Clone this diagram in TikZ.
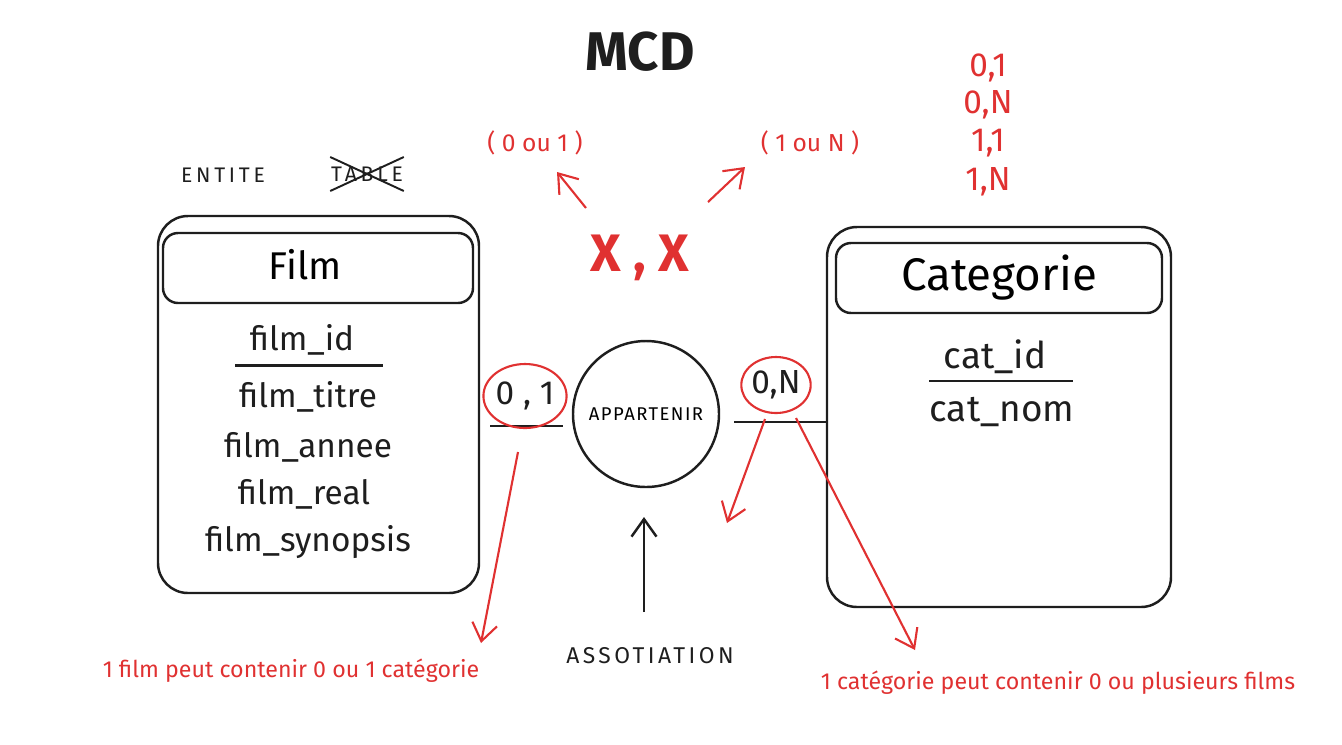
\documentclass[tikz,border=0pt]{standalone}
\usepackage{fontspec}
\setmainfont{Fira Sans}
\usepackage{xcolor}
\usepackage{tikz}
\usetikzlibrary{shapes.geometric,shapes.misc,arrows.meta,positioning,calc}

\definecolor{mcdred}{HTML}{E03131}
\definecolor{ink}{HTML}{1E1E1E}

\begin{document}
\begin{tikzpicture}[
    entity/.style={draw=ink,line width=1.4pt,rounded corners=0.6cm},
    header/.style={draw=ink,line width=1.4pt,rounded corners=0.3cm,font=\fontsize{22}{26}\selectfont},
    attr/.style={text=ink,font=\fontsize{19}{22}\selectfont},
    card/.style={draw=mcdred,line width=1.2pt,ellipse,inner sep=0pt,text=ink,font=\fontsize{19}{22}\selectfont},
    note/.style={text=mcdred,font=\fontsize{13.2}{15}\selectfont},
    label/.style={text=ink,font=\fontsize{12}{14}\selectfont\addfontfeature{LetterSpace=18}},
    redarrow/.style={draw=mcdred,line width=1.2pt,->},
    >={Straight Barb[length=3.5mm,width=5mm]},
]
    \useasboundingbox (0,0) rectangle (26.84,-14.88);

    \node[text=ink,font=\fontsize{31}{36}\selectfont\bfseries] (mcd) at (12.8,-1.04) {MCD};
    \node[label] (entite) at (4.46,-3.5) {ENTITE};
    \node[label,cross out,draw=ink,line width=1.1pt,inner xsep=0pt,inner ysep=5pt] (table) at (7.34,-3.48) {TABLE};

    % entites
    \node[entity,minimum width=6.42cm,minimum height=7.54cm] (film) at (6.37,-8.09) {};
    \node[header,minimum width=6.2cm,minimum height=1.4cm] (filmh) at (6.36,-5.36) {};
    \node[header,draw=none] (filmt) at (6.1,-5.3) {Film};
    \node[attr] (fid) at (6.04,-6.8) {film\_id};
    \draw[ink,line width=1.4pt] (4.7,-7.31) -- (7.66,-7.31);
    \node[attr] (ftitre) at (6.16,-7.94) {film\_titre};
    \node[attr] (fannee) at (6.16,-8.94) {film\_annee};
    \node[attr] (freal) at (6.08,-9.88) {film\_real};
    \node[attr] (fsyn) at (6.16,-10.84) {film\_synopsis};

    \node[entity,minimum width=6.88cm,minimum height=7.6cm] (cat) at (19.98,-8.34) {};
    \node[header,minimum width=6.52cm,minimum height=1.4cm,font=\fontsize{26}{30}\selectfont] (cath) at (19.98,-5.56) {Categorie};
    \node[attr,font=\fontsize{21}{24}\selectfont] (cid) at (19.9,-7.14) {cat\_id};
    \draw[ink,line width=1.4pt] (18.58,-7.62) -- (21.46,-7.62);
    \node[attr,font=\fontsize{21}{24}\selectfont] (cnom) at (20.04,-8.24) {cat\_nom};

    % association
    \node[draw=ink,line width=1.4pt,circle,minimum size=2.92cm,font=\fontsize{10.5}{12}\selectfont\addfontfeature{LetterSpace=8}] (app) at (12.92,-8.28) {APPARTENIR};
    \coordinate (l1) at (9.8,-8.52);
    \coordinate (r1) at (16.54,-8.44);
    \draw[ink,line width=1.5pt] (l1) -- (11.26,-8.52);
    \draw[ink,line width=1.5pt] (14.68,-8.44) -- (r1);

    \node[card,minimum width=1.48cm,minimum height=1.28cm] (c01) at (10.5,-7.92) {0 , 1};
    \node[card,minimum width=1.32cm,minimum height=1.12cm] (c0n) at (15.52,-7.7) {0,N};

    \node[label,font=\fontsize{13}{15}\selectfont\addfontfeature{LetterSpace=15}] (asso) at (13.0,-13.12) {ASSOTIATION};
    \coordinate (a0) at (12.88,-12.24);
    \coordinate (a1) at (12.88,-10.34);
    \draw[ink,line width=1.4pt,->] (a0) -- (a1);

    % notes
    \node[note] (n1) at (5.82,-13.42) {1 film peut contenir 0 ou 1 catégorie};
    \node[note] (n2) at (21.16,-13.66) {1 catégorie peut contenir 0 ou plusieurs films};
    \coordinate (p1) at (10.36,-9.04);
    \coordinate (p2) at (9.62,-12.86);
    \draw[redarrow] (p1) -- (p2);
    \coordinate (q1) at (15.3,-8.38);
    \coordinate (q2) at (14.54,-10.46);
    \draw[redarrow] (q1) -- (q2);
    \coordinate (q3) at (15.92,-8.36);
    \coordinate (q4) at (18.3,-13.0);
    \draw[redarrow] (q3) -- (q4);

    \node[note,font=\fontsize{14}{16}\selectfont] (ou1) at (10.7,-2.86) {( 0 ou 1 )};
    \node[note,font=\fontsize{14}{16}\selectfont] (ouN) at (16.2,-2.86) {( 1 ou N )};
    \node[text=mcdred,font=\fontsize{30}{34}\selectfont\bfseries] (xx) at (12.8,-5.16) {X , X};
    \coordinate (x1) at (11.72,-4.16);
    \coordinate (x2) at (11.14,-3.44);
    \draw[redarrow] (x1) -- (x2);
    \coordinate (x3) at (14.16,-4.04);
    \coordinate (x4) at (14.9,-3.34);
    \draw[redarrow] (x3) -- (x4);

    \node[note,font=\fontsize{19}{22}\selectfont] (k1) at (19.76,-1.36) {0,1};
    \node[note,font=\fontsize{19}{22}\selectfont] (k2) at (19.76,-2.1) {0,N};
    \node[note,font=\fontsize{19}{22}\selectfont] (k3) at (19.76,-2.86) {1,1};
    \node[note,font=\fontsize{19}{22}\selectfont] (k4) at (19.76,-3.64) {1,N};
\end{tikzpicture}
\end{document}
